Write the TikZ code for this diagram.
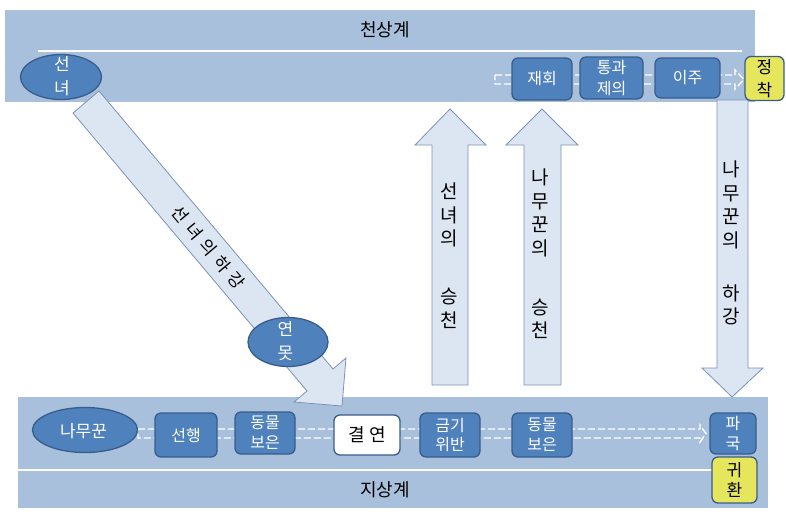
\documentclass[tikz,border=0pt]{standalone}
\usepackage{fontspec}
\setmainfont{Noto Sans CJK KR}
\usetikzlibrary{shapes.geometric,calc}
\definecolor{band}{HTML}{A9C0DD}
\definecolor{boxfill}{HTML}{4F81BD}
\definecolor{boxline}{HTML}{385D8A}
\definecolor{arrfill}{HTML}{DCE6F2}
\definecolor{arrline}{HTML}{7A93B4}
\definecolor{yel}{HTML}{E6E65C}
\pgfdeclarelayer{bg}
\pgfsetlayers{bg,main}
\tikzset{
  stage/.style={draw=boxline, fill=boxfill, line width=1.3pt, rounded corners=6pt,
    text=white, align=center, inner sep=0pt, font=\fontsize{16}{20}\selectfont},
  oval/.style={ellipse, draw=boxline, fill=boxfill, line width=1.3pt, inner sep=0pt},
  ovaltext/.style={text=white, align=center, inner sep=0pt, font=\fontsize{17}{24}\selectfont},
  goal/.style={stage, fill=yel, text=black, font=\fontsize{17}{23}\selectfont},
  blockarrow/.style={draw=arrline, fill=arrfill, line width=0.8pt, line join=miter},
  hollow/.style={draw=white, dash pattern=on 7pt off 3pt, line width=1.4pt},
  vtext/.style={align=center, inner sep=0pt, font=\fontsize{19}{23.5}\selectfont},
  title/.style={font=\fontsize{18}{20}\selectfont}
}
\begin{document}
\begin{tikzpicture}[x=1pt,y=-1pt]
\useasboundingbox (0,0) rectangle (786,517);
% titles
\node[title] (cheon) at (385,30) {천상계};
\node[title] (ji) at (385,490) {지상계};
% top nodes
\node[oval, minimum width=81pt, minimum height=45pt] (seonnyeo) at (61,77) {};
\node[ovaltext] (seonnyeoT) at (62,76.5) {선\\녀};
\node[stage, minimum width=60pt, minimum height=42pt] (jaehoe) at (542,79) {재회};
\node[stage, minimum width=63pt, minimum height=42pt, font=\fontsize{16}{21}\selectfont] (tonggwa) at (611.5,78) {통과\\제의};
\node[stage, minimum width=65pt, minimum height=40pt] (iju) at (687.5,78) {이주};
\node[goal, minimum width=39pt, minimum height=44pt] (jeongchak) at (764.5,78.5) {정\\착};
% bottom nodes
\node[oval, minimum width=105pt, minimum height=45pt] (namu) at (85,430) {};
\node[ovaltext, font=\fontsize{17}{20}\selectfont] (namuT) at (83.5,431.5) {나무꾼};
\node[stage, minimum width=62pt, minimum height=44pt] (seonhaeng) at (186,435) {선행};
\node[stage, minimum width=60pt, minimum height=42pt] (dongmulA) at (265,433) {동물\\보은};
\node[stage, fill=white, text=black, minimum width=66pt, minimum height=40pt, font=\fontsize{18}{20}\selectfont] (gyeolyeon) at (367,435) {\addfontfeature{LetterSpace=25}결연};
\node[stage, minimum width=60pt, minimum height=44pt, font=\fontsize{16}{19}\selectfont] (geumgi) at (450,435) {금기\\위반};
\node[stage, minimum width=60pt, minimum height=44pt] (dongmulB) at (542,435) {동물\\보은};
\node[stage, minimum width=46pt, minimum height=41pt] (pagguk) at (733,433.5) {파\\국};
\node[goal, minimum width=45pt, minimum height=46pt, font=\fontsize{17}{20}\selectfont] (gwihwan) at (734.5,480) {귀\\환};
% pond
\node[oval, minimum width=80pt, minimum height=49pt] (yeonmot) at (288,342) {};
\node[ovaltext] (yeonmotT) at (285.5,341) {연\\못};
% hollow arrow ends
\coordinate (tS) at (495,79.5);
\coordinate (tE) at (744,79.5);
\coordinate (bS) at (138,433.5);
\coordinate (bE) at (706,433.5);
\begin{pgfonlayer}{bg}
  \fill[band] (5,10) rectangle (755,102);
  \draw[white, line width=1.5pt] (38,51) -- (742,51);
  \fill[band] (18,397) rectangle (768,508);
  \draw[white, line width=1.5pt] (18,470) -- (712,470);
  % hollow dashed arrows
  \draw[hollow] ([yshift=4.5pt]tS) -- ([xshift=-9pt,yshift=4.5pt]tE) -- ([xshift=-9pt,yshift=9.5pt]tE) -- (tE)
     -- ([xshift=-9pt,yshift=-9.5pt]tE) -- ([xshift=-9pt,yshift=-4.5pt]tE) -- ([yshift=-4.5pt]tS) -- cycle;
  \draw[hollow] ([yshift=4.5pt]bS) -- ([xshift=-6pt,yshift=4.5pt]bE) -- ([xshift=-6pt,yshift=8.5pt]bE) -- (bE)
     -- ([xshift=-6pt,yshift=-8.5pt]bE) -- ([xshift=-6pt,yshift=-4.5pt]bE) -- ([yshift=-4.5pt]bS) -- cycle;
  % big block arrows
  \draw[blockarrow] (99,91) -- (333,369) -- (346,358) -- (342,406) -- (294,402) -- (307,391) -- (73,113) -- cycle;
  \draw[blockarrow] (432,385) -- (432,145) -- (415,145) -- (450,109) -- (486,145) -- (468,145) -- (468,385) -- cycle;
  \draw[blockarrow] (524,385) -- (524,145) -- (506,145) -- (542,109) -- (578,145) -- (561,145) -- (561,385) -- cycle;
  \draw[blockarrow] (717,100) -- (717,368) -- (702,368) -- (732,397) -- (763,368) -- (748,368) -- (748,100) -- cycle;
\end{pgfonlayer}
% arrow labels
\node[font=\fontsize{17}{20}\selectfont, rotate=-50, inner sep=0pt] (descent) at (208.6,247.5) {\addfontfeature{LetterSpace=35}선녀의하강};
\node[vtext] (t1a) at (449,215) {선\\녀\\의};
\node[vtext] (t1b) at (449,308.5) {승\\천};
\node[vtext] (t2a) at (540,213) {나\\무\\꾼\\의};
\node[vtext] (t2b) at (540,319) {승\\천};
\node[vtext] (t3a) at (731.5,205) {나\\무\\꾼\\의};
\node[vtext] (t3b) at (731.5,305) {하\\강};
\end{tikzpicture}
\end{document}
